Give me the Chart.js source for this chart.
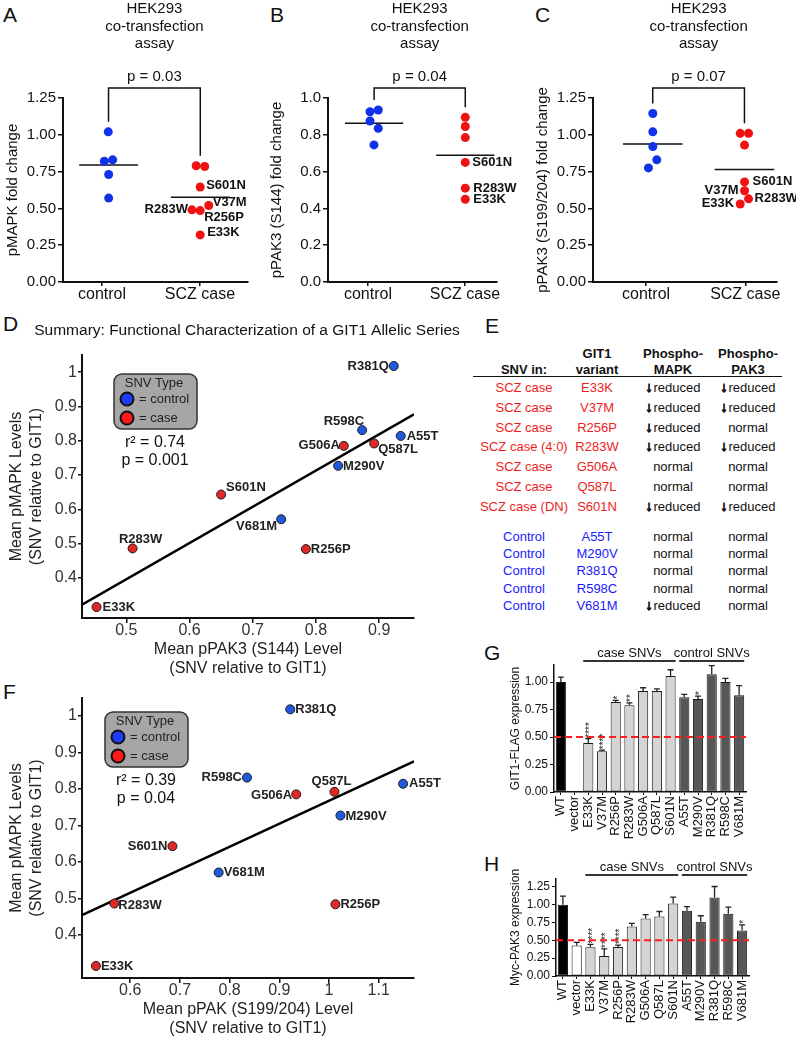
<!DOCTYPE html>
<html>
<head>
<meta charset="utf-8">
<script src="https://cdn.jsdelivr.net/npm/chart.js@4.4.1/dist/chart.umd.min.js"></script>
<style>
  html, body { margin: 0; padding: 0; background: #fff; }
  body { width: 800px; height: 1039px; position: relative; overflow: hidden; font-family: "Liberation Sans", Arial, sans-serif; }
  canvas { position: absolute; }
  .letter { position: absolute; font-size: 21px; line-height: 1; color: #111; }
  .cell { position: absolute; font-size: 13px; line-height: 1; transform: translate(-50%, -50%); white-space: nowrap; }
  .head { font-weight: bold; color: #111; }
  .arr { font-weight: bold; font-size: 14px; -webkit-text-stroke: 1px #111; margin-right: 1px; }
</style>
</head>
<body>
<script>
// ---- A-C : HEK293 co-transfection assay ----
const groupNames = ['control', 'SCZ case'];
const assayTitle = ['HEK293', 'co-transfection', 'assay'];

// A: pMAPK fold change
const aCtrl = [1.02, 0.82, 0.83, 0.73, 0.57];
const aCtrlX = [1.064, 1.024, 1.109, 1.068, 1.068];
const aCase = [0.79, 0.785, 0.645, 0.52, 0.49, 0.485, 0.32];
const aCaseX = [1.961, 2.048, 2.002, 2.089, 1.918, 2.002, 2.002];
const aCaseNames = ['', '', 'S601N', 'V37M', 'R283W', 'R256P', 'E33K'];
const aTicks = [0, 0.25, 0.5, 0.75, 1.0, 1.25];

// B: pPAK3 (S144) fold change
const bCtrl = [0.925, 0.935, 0.875, 0.835, 0.745];
const bCtrlX = [1.021, 1.106, 1.021, 1.106, 1.062];
const bCase = [0.895, 0.845, 0.785, 0.65, 0.51, 0.45];
const bCaseX = [2.003, 2.003, 2.003, 2.003, 2.003, 2.003];
const bCaseNames = ['', '', '', 'S601N', 'R283W', 'E33K'];
const bTicks = [0, 0.2, 0.4, 0.6, 0.8, 1.0];

// C: pPAK3 (S199/204) fold change
const cCtrl = [1.145, 1.02, 0.92, 0.83, 0.775];
const cCtrlX = [1.068, 1.068, 1.068, 1.108, 1.024];
const cCase = [1.01, 1.01, 0.93, 0.68, 0.62, 0.565, 0.53];
const cCaseX = [1.949, 2.033, 1.993, 1.993, 1.993, 2.033, 1.949];
const cCaseNames = ['', '', '', 'S601N', 'V37M', 'R283W', 'E33K'];
const cTicks = [0, 0.25, 0.5, 0.75, 1.0, 1.25];

// ---- D / F : summary of the allelic series ----
const variants = ['E33K', 'R256P', 'R283W', 'G506A', 'Q587L', 'S601N', 'A55T', 'M290V', 'R381Q', 'R598C', 'V681M'];
const variantType = ['case', 'case', 'case', 'case', 'case', 'case', 'control', 'control', 'control', 'control', 'control'];
const meanPMAPK = [0.315, 0.484, 0.486, 0.785, 0.792, 0.643, 0.814, 0.727, 1.018, 0.831, 0.571];
const meanPPAK3_S144 = [0.453, 0.784, 0.510, 0.844, 0.892, 0.650, 0.934, 0.835, 0.923, 0.873, 0.745];
const meanPPAK_S199 = [0.531, 1.013, 0.568, 0.934, 1.011, 0.685, 1.149, 1.023, 0.922, 0.835, 0.778];
const summaryYTicks = [0.4, 0.5, 0.6, 0.7, 0.8, 0.9, 1];
const dXTicks = [0.5, 0.6, 0.7, 0.8, 0.9];
const fXTicks = [0.6, 0.7, 0.8, 0.9, 1, 1.1];

// ---- E : table ----
const tableHead = [['', 'SNV in:'], ['GIT1', 'variant'], ['Phospho-', 'MAPK'], ['Phospho-', 'PAK3']];
const tableRows = [
  ['case', 'SCZ case', 'E33K', 'reduced', 'reduced'],
  ['case', 'SCZ case', 'V37M', 'reduced', 'reduced'],
  ['case', 'SCZ case', 'R256P', 'reduced', 'normal'],
  ['case', 'SCZ case (4:0)', 'R283W', 'reduced', 'reduced'],
  ['case', 'SCZ case', 'G506A', 'normal', 'normal'],
  ['case', 'SCZ case', 'Q587L', 'normal', 'normal'],
  ['case', 'SCZ case (DN)', 'S601N', 'reduced', 'reduced'],
  ['control', 'Control', 'A55T', 'normal', 'normal'],
  ['control', 'Control', 'M290V', 'normal', 'normal'],
  ['control', 'Control', 'R381Q', 'normal', 'normal'],
  ['control', 'Control', 'R598C', 'normal', 'normal'],
  ['control', 'Control', 'V681M', 'reduced', 'normal']
];

// ---- G / H : expression bars ----
const barLabels = ['WT', 'vector', 'E33K', 'V37M', 'R256P', 'R283W', 'G506A', 'Q587L', 'S601N', 'A55T', 'M290V', 'R381Q', 'R598C', 'V681M'];
const barGroup = ['wt', 'vector', 'case', 'case', 'case', 'case', 'case', 'case', 'case', 'control', 'control', 'control', 'control', 'control'];
const flagExpr = [1.00, 0, 0.445, 0.37, 0.818, 0.79, 0.918, 0.918, 1.055, 0.861, 0.845, 1.07, 1.00, 0.879];
const flagErr = [0.045, null, 0.04, 0.01, 0.015, 0.02, 0.03, 0.02, 0.057, 0.027, 0.027, 0.08, 0.033, 0.088];
const flagStars = ['', '', '****', '****', '*', '**', '', '', '', '', '*', '', '', ''];
const flagTicks = [0, 0.25, 0.5, 0.75, 1.0];
const pak3Expr = [1.0, 0.427, 0.403, 0.28, 0.408, 0.694, 0.806, 0.834, 1.017, 0.914, 0.76, 1.10, 0.872, 0.638];
const pak3Err = [0.12, 0.045, 0.04, 0.1, 0.025, 0.045, 0.055, 0.07, 0.09, 0.06, 0.085, 0.155, 0.095, 0.08];
const pak3Stars = ['', '', '****', '****', '****', '', '', '', '', '', '', '', '', '*'];
const pak3Ticks = [0, 0.25, 0.5, 0.75, 1.0, 1.25];
const halfLine = 0.5;

// ---------------------------------------------------------------
const FAM = '"Liberation Sans", Arial, Helvetica, sans-serif';
const font = (size, bold) => (bold ? 'bold ' : '') + size + 'px ' + FAM;
const avg = a => a.reduce((s, v) => s + v, 0) / a.length;

Chart.defaults.font.family = FAM;
Chart.defaults.color = '#111';
Chart.defaults.animation = false;
Chart.defaults.responsive = false;
Chart.defaults.devicePixelRatio = 1;
Chart.defaults.plugins.legend.display = false;
Chart.defaults.plugins.tooltip.enabled = false;

function makeCanvas(left, top, width, height) {
  const c = document.createElement('canvas');
  c.width = width; c.height = height;
  c.style.left = left + 'px'; c.style.top = top + 'px';
  c.style.width = width + 'px'; c.style.height = height + 'px';
  document.body.appendChild(c);
  return c;
}

function letter(t, left, top) {
  const d = document.createElement('div');
  d.className = 'letter'; d.textContent = t;
  d.style.left = left + 'px'; d.style.top = top + 'px';
  document.body.appendChild(d);
}

// dot plot (panels A-C)
function dotPlot(o) {
  const cv = makeCanvas(o.left, 0, o.width, 306);
  const yW = o.plotLeft - o.left;
  const padR = o.left + o.width - o.plotRight;
  const cx = avg(o.ctrlX), kx = avg(o.caseX);
  const cm = avg(o.ctrl), km = avg(o.cases);
  const extras = {
    id: 'dotExtras',
    afterDraw(chart) {
      const { ctx, chartArea: area, scales: { x, y } } = chart;
      const x1 = x.getPixelForValue(cx), x2 = x.getPixelForValue(kx);
      const top = area.top - 10;
      const y1 = y.getPixelForValue(Math.max(...o.ctrl)) - 10;
      const y2 = y.getPixelForValue(Math.max(...o.cases)) - 10;
      ctx.save();
      ctx.strokeStyle = '#111'; ctx.lineWidth = 1.5;
      ctx.beginPath(); ctx.moveTo(x1, y1); ctx.lineTo(x1, top); ctx.lineTo(x2, top); ctx.lineTo(x2, y2); ctx.stroke();
      ctx.fillStyle = '#111'; ctx.textAlign = 'center'; ctx.textBaseline = 'middle';
      ctx.font = font(15);
      const mid = (x1 + x2) / 2;
      ctx.fillText(o.p, mid, area.top - 21);
      assayTitle.forEach((t, i) => ctx.fillText(t, mid, 9 + i * 17.5));
      ctx.font = font(13, true);
      const meta = chart.getDatasetMeta(1);
      o.names.forEach((n, i) => {
        if (!n) return;
        const pt = meta.data[i];
        const [al, dx, dy] = o.pos[n];
        ctx.textAlign = al;
        ctx.fillText(n, pt.x + dx, pt.y + dy);
      });
      ctx.restore();
    }
  };
  new Chart(cv, {
    type: 'scatter',
    data: {
      datasets: [
        { data: o.ctrl.map((v, i) => ({ x: o.ctrlX[i], y: v })), backgroundColor: '#1030ea', borderWidth: 0, pointRadius: 4.5 },
        { data: o.cases.map((v, i) => ({ x: o.caseX[i], y: v })), backgroundColor: '#ee1212', borderWidth: 0, pointRadius: 4.5 },
        { data: [{ x: cx - 0.3, y: cm }, { x: cx + 0.3, y: cm }], showLine: true, borderColor: '#111', borderWidth: 1.5, pointRadius: 0 },
        { data: [{ x: kx - 0.3, y: km }, { x: kx + 0.3, y: km }], showLine: true, borderColor: '#111', borderWidth: 1.5, pointRadius: 0 }
      ]
    },
    options: {
      layout: { padding: { top: 98, right: padR, left: 0, bottom: 0 } },
      scales: {
        x: {
          type: 'linear', min: o.xmin, max: o.xmax,
          afterFit: s => { s.height = 24; },
          afterBuildTicks: s => { s.ticks = [{ value: 1 }, { value: 2 }]; },
          ticks: { callback: v => groupNames[Math.round(v) - 1], font: { size: 16 }, padding: -1, color: '#111', autoSkip: false, maxRotation: 0 },
          grid: { drawOnChartArea: false, tickLength: 4, color: '#111', lineWidth: 1.5 },
          border: { color: '#111', width: 2 }
        },
        y: {
          min: 0, max: o.ymax,
          afterFit: s => { s.width = yW; },
          afterBuildTicks: s => { s.ticks = o.ticks.map(v => ({ value: v })); },
          ticks: { callback: v => v.toFixed(o.dec), font: { size: 15 }, padding: 2, color: '#111' },
          grid: { drawOnChartArea: false, tickLength: 5, color: '#111', lineWidth: 1.5 },
          border: { color: '#111', width: 2 },
          title: { display: true, text: o.ytitle, font: { size: 15 }, padding: 0, color: '#111' }
        }
      }
    },
    plugins: [extras]
  });
}

// least squares line
function fit(xs, ys) {
  const mx = avg(xs), my = avg(ys);
  let sxy = 0, sxx = 0;
  xs.forEach((x, i) => { sxy += (x - mx) * (ys[i] - my); sxx += (x - mx) * (x - mx); });
  const b = sxy / sxx;
  return { a: my - b * mx, b };
}

// summary scatter (panels D, F)
function summaryPlot(o) {
  const cv = makeCanvas(o.left, o.top, o.width, o.height);
  const yW = o.plotLeft - o.left;
  const padR = o.left + o.width - o.plotRight;
  const padT = o.plotTop - o.top;
  const { a, b } = fit(o.xs, meanPMAPK);
  const pts = t => variants.map((v, i) => ({ x: o.xs[i], y: meanPMAPK[i], name: v, t: variantType[i] })).filter(p => p.t === t);
  const X = px => px - o.left, Y = py => py - o.top;
  const extras = {
    id: 'summaryExtras',
    afterDraw(chart) {
      const ctx = chart.ctx;
      ctx.save();
      ctx.textBaseline = 'middle';
      if (o.title) {
        ctx.font = font(15.5); ctx.fillStyle = '#111'; ctx.textAlign = 'center';
        ctx.fillText(o.title, X(o.titleX), Y(o.titleY));
      }
      // legend box
      const L = o.legend;
      ctx.beginPath();
      ctx.roundRect(X(L.x), Y(L.y), 83, 55, 8);
      ctx.fillStyle = '#a6a6a6'; ctx.fill();
      ctx.strokeStyle = '#333'; ctx.lineWidth = 1.5; ctx.stroke();
      ctx.fillStyle = '#222'; ctx.font = font(13); ctx.textAlign = 'center';
      ctx.fillText('SNV Type', X(L.x + 40), Y(L.y + 9));
      [['#1e3cff', '= control', 25], ['#ff1a1a', '= case', 44]].forEach(([c, t, dy]) => {
        ctx.beginPath(); ctx.arc(X(L.x + 13), Y(L.y + dy), 6.5, 0, Math.PI * 2);
        ctx.fillStyle = c; ctx.fill(); ctx.lineWidth = 2; ctx.strokeStyle = '#111'; ctx.stroke();
        ctx.fillStyle = '#222'; ctx.textAlign = 'left';
        ctx.fillText(t, X(L.x + 25), Y(L.y + dy));
      });
      ctx.font = font(16); ctx.textAlign = 'center'; ctx.fillStyle = '#111';
      ctx.fillText(o.r2, X(L.x + 41), Y(L.y + 55 + 14));
      ctx.fillText(o.p, X(L.x + 41), Y(L.y + 55 + 32));
      // point labels
      ctx.font = font(13, true); ctx.fillStyle = '#222';
      [1, 2].forEach(d => {
        chart.getDatasetMeta(d).data.forEach((el, i) => {
          const n = chart.data.datasets[d].data[i].name;
          const [al, dx, dy] = o.pos[n];
          ctx.textAlign = al;
          ctx.fillText(n, el.x + dx, el.y + dy);
        });
      });
      ctx.restore();
    }
  };
  new Chart(cv, {
    type: 'scatter',
    data: {
      datasets: [
        { data: [{ x: o.xmin, y: a + b * o.xmin }, { x: o.xmax, y: a + b * o.xmax }], showLine: true, borderColor: '#000', borderWidth: 2.5, pointRadius: 0, order: 3 },
        { data: pts('control'), backgroundColor: '#2158dc', borderColor: '#1a1a1a', borderWidth: 1, pointRadius: 4.5, order: 1 },
        { data: pts('case'), backgroundColor: '#e02828', borderColor: '#1a1a1a', borderWidth: 1, pointRadius: 4.5, order: 2 }
      ]
    },
    options: {
      layout: { padding: { top: padT, right: padR, left: 0, bottom: 0 } },
      scales: {
        x: {
          type: 'linear', min: o.xmin, max: o.xmax,
          afterFit: s => { s.height = 60; },
          afterBuildTicks: s => { s.ticks = o.xticks.map(v => ({ value: v })); },
          ticks: { callback: v => String(v), font: { size: 16 }, padding: -2, color: '#333', maxRotation: 0, autoSkip: false },
          grid: { drawOnChartArea: false, tickLength: 5, color: '#111', lineWidth: 1.5 },
          border: { color: '#111', width: 2 },
          title: { display: true, text: o.xtitle, font: { size: 16, lineHeight: 1.19 }, padding: 0, color: '#222' }
        },
        y: {
          min: o.ymin, max: o.ymax,
          afterFit: s => { s.width = yW; },
          afterBuildTicks: s => { s.ticks = summaryYTicks.map(v => ({ value: v })); },
          ticks: { callback: v => String(v), font: { size: 16 }, padding: 1, color: '#333' },
          grid: { drawOnChartArea: false, tickLength: 4, color: '#111', lineWidth: 1.5 },
          border: { color: '#111', width: 2 },
          title: { display: true, text: ['Mean pMAPK Levels', '(SNV relative to GIT1)'], font: { size: 16, lineHeight: 1.25 }, padding: 0, color: '#222' }
        }
      }
    },
    plugins: [extras]
  });
}

// bar chart (panels G, H)
const barFill = { wt: '#000000', vector: '#ffffff', case: '#d4d4d4', control: '#575757' };
function barPlot(o) {
  const cv = makeCanvas(o.left, o.top, o.width, o.height);
  const yW = o.plotLeft - o.left;
  const padR = o.left + o.width - o.plotRight;
  const padT = o.plotTop - o.top;
  const extras = {
    id: 'barExtras',
    afterDatasetsDraw(chart) {
      const { ctx, chartArea: area, scales: { y } } = chart;
      const meta = chart.getDatasetMeta(0);
      ctx.save();
      ctx.strokeStyle = '#222'; ctx.fillStyle = '#222'; ctx.lineWidth = 1.3;
      meta.data.forEach((bar, i) => {
        const e = o.err[i];
        if (e == null) return;
        const y0 = y.getPixelForValue(o.values[i]);
        const y1 = y.getPixelForValue(o.values[i] + e);
        ctx.beginPath();
        ctx.moveTo(bar.x, y0); ctx.lineTo(bar.x, y1);
        ctx.moveTo(bar.x - 3, y1); ctx.lineTo(bar.x + 3, y1);
        ctx.stroke();
        if (o.stars[i]) {
          ctx.save();
          ctx.translate(bar.x, y1 - 1);
          ctx.rotate(-Math.PI / 2);
          ctx.font = font(10); ctx.textAlign = 'left'; ctx.textBaseline = 'middle';
          ctx.fillText(o.stars[i], 0, 2.3);
          ctx.restore();
        }
      });
      // 50% reference
      const yh = y.getPixelForValue(halfLine);
      ctx.strokeStyle = '#ff1c1c'; ctx.lineWidth = 2; ctx.setLineDash([7, 4]);
      ctx.beginPath(); ctx.moveTo(area.left, yh); ctx.lineTo(area.right, yh); ctx.stroke();
      ctx.setLineDash([]);
      // group headers
      [['case', 'case SNVs'], ['control', 'control SNVs']].forEach(([g, t]) => {
        const idx = barGroup.map((v, i) => v === g ? i : -1).filter(i => i >= 0);
        const b0 = meta.data[idx[0]], b1 = meta.data[idx[idx.length - 1]];
        const xa = b0.x - b0.width / 2, xb = b1.x + b1.width / 2;
        ctx.strokeStyle = '#333'; ctx.lineWidth = 2;
        ctx.beginPath(); ctx.moveTo(xa, area.top - 4); ctx.lineTo(xb, area.top - 4); ctx.stroke();
        ctx.font = font(13); ctx.fillStyle = '#111'; ctx.textAlign = 'center'; ctx.textBaseline = 'middle';
        ctx.fillText(t, (xa + xb) / 2, area.top - 12);
      });
      ctx.restore();
    }
  };
  new Chart(cv, {
    type: 'bar',
    data: {
      labels: barLabels,
      datasets: [{
        data: o.values,
        backgroundColor: barGroup.map(g => barFill[g]),
        borderColor: '#1a1a1a', borderWidth: 1, borderSkipped: false,
        barPercentage: 0.74, categoryPercentage: 1
      }]
    },
    options: {
      layout: { padding: { top: padT, right: padR, left: 0, bottom: 0 } },
      scales: {
        x: {
          afterFit: s => { s.height = 48; },
          ticks: { font: { size: 13 }, minRotation: 90, maxRotation: 90, autoSkip: false, padding: 1, color: '#111' },
          grid: { drawOnChartArea: false, offset: false, tickLength: 3, color: '#111' },
          border: { color: '#111', width: 1.5 }
        },
        y: {
          min: 0, max: o.ymax,
          afterFit: s => { s.width = yW; },
          afterBuildTicks: s => { s.ticks = o.ticks.map(v => ({ value: v })); },
          ticks: { callback: v => v.toFixed(2), font: { size: 12 }, padding: 2, color: '#111' },
          grid: { drawOnChartArea: false, tickLength: 4, color: '#111' },
          border: { color: '#111', width: 1.5 },
          title: { display: true, text: o.ytitle, font: { size: 12 }, padding: 0, color: '#111' }
        }
      }
    },
    plugins: [extras]
  });
}

// ---------------- build the figure ----------------
letter('A', 3, 4); letter('B', 270, 4); letter('C', 535, 4);
letter('D', 3, 313); letter('E', 485, 315); letter('F', 3, 681);
letter('G', 484, 642); letter('H', 484, 853);

dotPlot({ left: 4, width: 258, plotLeft: 63, plotRight: 248, xmin: 0.602, xmax: 2.49, ymax: 1.25, ticks: aTicks, dec: 2,
  ctrl: aCtrl, ctrlX: aCtrlX, cases: aCase, caseX: aCaseX, names: aCaseNames, p: 'p = 0.03', ytitle: 'pMAPK fold change',
  pos: { S601N: ['left', 6, -2], V37M: ['left', 4, -3], R283W: ['right', -4, 0], R256P: ['left', 4, 7], E33K: ['left', 7, -2] } });

dotPlot({ left: 268, width: 257, plotLeft: 328, plotRight: 497, xmin: 0.588, xmax: 2.33, ymax: 1.0, ticks: bTicks, dec: 1,
  ctrl: bCtrl, ctrlX: bCtrlX, cases: bCase, caseX: bCaseX, names: bCaseNames, p: 'p = 0.04', ytitle: 'pPAK3 (S144) fold change',
  pos: { S601N: ['left', 7, 0], R283W: ['left', 8, 0], E33K: ['left', 8, 0] } });

dotPlot({ left: 534, width: 262, plotLeft: 593, plotRight: 777, xmin: 0.465, xmax: 2.32, ymax: 1.25, ticks: cTicks, dec: 2,
  ctrl: cCtrl, ctrlX: cCtrlX, cases: cCase, caseX: cCaseX, names: cCaseNames, p: 'p = 0.07', ytitle: 'pPAK3 (S199/204) fold change',
  pos: { S601N: ['left', 8, 0], V37M: ['right', -6, 0], R283W: ['left', 6, 0], E33K: ['right', -6, -1] } });

summaryPlot({ left: 7, top: 318, width: 463, height: 360, plotLeft: 82, plotRight: 414, plotTop: 355,
  xs: meanPPAK3_S144, xmin: 0.43, xmax: 0.955, ymin: 0.283, ymax: 1.05, xticks: dXTicks,
  xtitle: ['Mean pPAK3 (S144) Level', '(SNV relative to GIT1)'],
  title: 'Summary: Functional Characterization of a GIT1 Allelic Series', titleX: 247, titleY: 331,
  legend: { x: 114, y: 374 }, r2: 'r\u00B2 = 0.74', p: 'p = 0.001',
  pos: { R381Q: ['right', -5, 0], R598C: ['right', 2, -9], A55T: ['left', 6, 0], G506A: ['right', -4, 0], Q587L: ['left', 4, 6],
         M290V: ['left', 5, 1], S601N: ['left', 5, -7], V681M: ['right', -4, 7], R283W: ['center', 8, -9], R256P: ['left', 5, 0], E33K: ['left', 6, 0] } });

summaryPlot({ left: 7, top: 680, width: 463, height: 358, plotLeft: 82, plotRight: 414, plotTop: 698,
  xs: meanPPAK_S199, xmin: 0.503, xmax: 1.171, ymin: 0.282, ymax: 1.049, xticks: fXTicks,
  xtitle: ['Mean pPAK (S199/204) Level', '(SNV relative to GIT1)'],
  legend: { x: 105, y: 712 }, r2: 'r\u00B2 = 0.39', p: 'p = 0.04',
  pos: { R381Q: ['left', 5, 0], R598C: ['right', -5, 0], G506A: ['right', -4, 1], Q587L: ['center', -3, -10], A55T: ['left', 6, 0],
         M290V: ['left', 5, 1], S601N: ['right', -5, 0], V681M: ['left', 5, 0], R283W: ['left', 4, 2], R256P: ['left', 5, 0], E33K: ['left', 5, 0] } });

barPlot({ left: 508, top: 640, width: 252, height: 200, plotLeft: 554, plotRight: 746, plotTop: 665, ymax: 1.155,
  values: flagExpr, err: flagErr, stars: flagStars, ticks: flagTicks, ytitle: 'GIT1-FLAG expression' });

barPlot({ left: 508, top: 855, width: 255, height: 169, plotLeft: 556, plotRight: 749, plotTop: 879, ymax: 1.36,
  values: pak3Expr, err: pak3Err, stars: pak3Stars, ticks: pak3Ticks, ytitle: 'Myc-PAK3 expression' });

// table E
const colX = [524, 597, 673, 748];
function cell(html, x, y, cls, color) {
  const d = document.createElement('div');
  d.className = 'cell ' + (cls || '');
  d.innerHTML = html;
  d.style.left = x + 'px'; d.style.top = y + 'px';
  if (color) d.style.color = color;
  document.body.appendChild(d);
}
tableHead.forEach((h, c) => {
  if (h[0]) cell(h[0], colX[c], 353, 'head');
  cell(h[1], colX[c], 369, 'head');
});
const rule = document.createElement('div');
rule.style.cssText = 'position:absolute;left:473px;top:376px;width:309px;height:0;border-top:1.5px solid #111;';
document.body.appendChild(rule);
let caseRow = 0, ctrlRow = 0;
tableRows.forEach(r => {
  const y = r[0] === 'case' ? 387 + 19.8 * caseRow++ : 536 + 17.2 * ctrlRow++;
  const col = r[0] === 'case' ? '#ee1c1c' : '#1a1aff';
  cell(r[1], colX[0], y, '', col);
  cell(r[2], colX[1], y, '', col);
  [r[3], r[4]].forEach((v, k) => {
    const html = v === 'reduced' ? '<span class="arr">\u2193</span>reduced' : v;
    cell(html, colX[2 + k], y, '', '#111');
  });
});
</script>
</body>
</html>
